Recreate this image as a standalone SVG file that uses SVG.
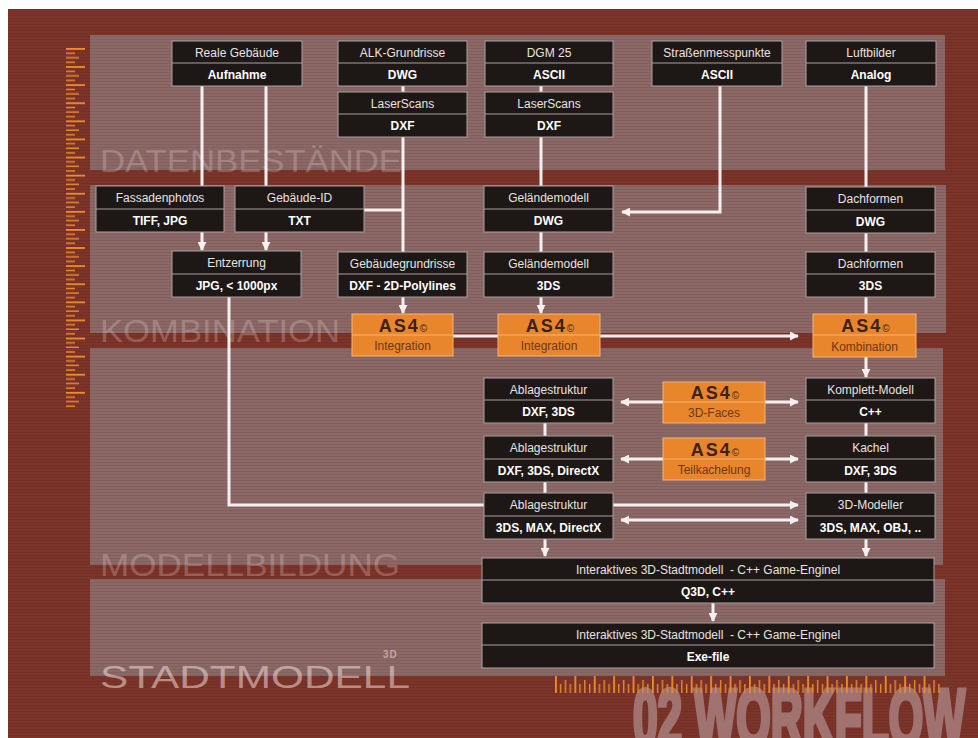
<svg xmlns="http://www.w3.org/2000/svg" width="978" height="738" viewBox="0 0 978 738">
<style>
.bx{fill:#1d1715;stroke:#aaa19f;stroke-width:1}
.dv{stroke:#aaa19f;stroke-width:1}
.t{font-family:"Liberation Sans",Arial,sans-serif;font-size:12px;fill:#e9e3e1;text-anchor:middle}
.b{font-weight:bold;fill:#ffffff}
.ob{fill:#e9862c;stroke:#f3b476;stroke-width:1}
.odv{stroke:#f3b476;stroke-width:1}
.as{font-family:"Liberation Sans",Arial,sans-serif;font-size:18px;font-weight:bold;fill:#3a2216;letter-spacing:2px;text-anchor:middle}
.ol{font-family:"Liberation Sans",Arial,sans-serif;font-size:12px;fill:#6b3816;text-anchor:middle}
.c{stroke:#f5f0ef;stroke-width:3;fill:none}
.sec{font-family:"Liberation Sans",Arial,sans-serif;fill:#f2dcd8}
.pan{fill:#8b6866}
</style>
<defs>
<marker id="ah" viewBox="0 0 10 10" refX="9" refY="5" markerWidth="9" markerHeight="9" markerUnits="userSpaceOnUse" orient="auto-start-reverse"><path d="M0,0 L10,5 L0,10 z" fill="#f5f0ef"/></marker>
<pattern id="st" width="4" height="3" patternUnits="userSpaceOnUse"><rect width="4" height="1" fill="#000000" opacity="0.07"/></pattern>
<pattern id="rv" x="66" y="48" width="20" height="18.1" patternUnits="userSpaceOnUse"><rect x="0" y="0" width="19" height="1.8" fill="#f08c2a"/><rect x="0" y="4.5" width="9" height="1.5" fill="#e8882c"/><rect x="0" y="9" width="13" height="1.5" fill="#e8882c"/><rect x="0" y="13.6" width="9" height="1.5" fill="#e8882c"/></pattern>
<pattern id="rh" x="555" y="676" width="19.4" height="17" patternUnits="userSpaceOnUse"><rect x="0" y="0" width="1.8" height="17" fill="#f08c2a"/><rect x="4.85" y="8" width="1.4" height="9" fill="#e8882c"/><rect x="9.7" y="4" width="1.4" height="13" fill="#e8882c"/><rect x="14.55" y="8" width="1.4" height="9" fill="#e8882c"/></pattern>
</defs>
<rect x="0" y="0" width="978" height="738" fill="#ffffff"/>
<rect x="8" y="9" width="970" height="729" fill="#7c3429"/>
<g id="panels">
<rect class="pan" x="90" y="35" width="855" height="135"/>
<rect class="pan" x="90" y="185" width="856" height="148"/>
<rect class="pan" x="90" y="348" width="853" height="217"/>
<rect class="pan" x="90" y="579" width="855" height="97"/>
</g>
<rect x="8" y="9" width="970" height="729" fill="url(#st)"/>
<g id="labels">
<text class="sec" x="100" y="172" style="font-size:31px;fill-opacity:0.27" textLength="302" lengthAdjust="spacingAndGlyphs">DATENBESTÄNDE</text>
<text class="sec" x="100" y="342" style="font-size:31px;fill-opacity:0.27" textLength="240" lengthAdjust="spacingAndGlyphs">KOMBINATION</text>
<text class="sec" x="100" y="576" style="font-size:31px;fill-opacity:0.27" textLength="300" lengthAdjust="spacingAndGlyphs">MODELLBILDUNG</text>
<text class="sec" x="100" y="688" style="font-size:32px;fill-opacity:0.55" textLength="310" lengthAdjust="spacingAndGlyphs">STADTMODELL</text>
<text class="sec" x="383" y="658" style="font-size:10px;font-weight:bold;fill-opacity:0.55;letter-spacing:1px">3D</text>
<text x="633" y="745" style="font-family:'Liberation Sans',Arial,sans-serif;font-size:80px;font-weight:bold;fill:#a07370;stroke:#a07370;stroke-width:5px;stroke-linejoin:miter" textLength="332" lengthAdjust="spacingAndGlyphs">02 WORKFLOW</text>
</g>
<g id="rulers">
<rect x="66" y="48" width="20" height="361" fill="url(#rv)"/>
<rect x="555" y="676" width="388" height="17" fill="url(#rh)"/>
</g>
<g id="connectors">
<path class="c" d="M202,86 V186"/>
<path class="c" d="M266,86 V186"/>
<path class="c" d="M202,232 V250" marker-end="url(#ah)"/>
<path class="c" d="M266,232 V250" marker-end="url(#ah)"/>
<path class="c" d="M403,86 V92"/>
<path class="c" d="M403,137 V252"/>
<path class="c" d="M364,210 H403"/>
<path class="c" d="M403,297 V313" marker-end="url(#ah)"/>
<path class="c" d="M541,86 V92"/>
<path class="c" d="M541,137 V186"/>
<path class="c" d="M541,232 V252"/>
<path class="c" d="M541,297 V313" marker-end="url(#ah)"/>
<path class="c" d="M720,86 V212 H622" marker-end="url(#ah)"/>
<path class="c" d="M866,86 V187"/>
<path class="c" d="M866,233 V252"/>
<path class="c" d="M866,297 V314"/>
<path class="c" d="M866,357 V377" marker-end="url(#ah)"/>
<path class="c" d="M453,336 H498"/>
<path class="c" d="M600,336 H798" marker-end="url(#ah)"/>
<path class="c" d="M229,297 V505 H484"/>
<path class="c" d="M621,402 H798" marker-start="url(#ah)" marker-end="url(#ah)"/>
<path class="c" d="M621,459 H798" marker-start="url(#ah)" marker-end="url(#ah)"/>
<path class="c" d="M613,505 H798" marker-end="url(#ah)"/>
<path class="c" d="M621,520 H798" marker-start="url(#ah)" marker-end="url(#ah)"/>
<path class="c" d="M545,423 V436"/>
<path class="c" d="M545,482 V493"/>
<path class="c" d="M545,539 V556" marker-end="url(#ah)"/>
<path class="c" d="M866,423 V436"/>
<path class="c" d="M866,482 V493"/>
<path class="c" d="M866,539 V556" marker-end="url(#ah)"/>
<path class="c" d="M713,603 V621" marker-end="url(#ah)"/>
</g>
<g id="n_reale" transform="translate(172,41)"><rect class="bx" width="130" height="45"/><line class="dv" x1="0" y1="22" x2="130" y2="22"/><text class="t" x="65" y="16">Reale Gebäude</text><text class="t b" x="65" y="38">Aufnahme</text></g>
<g id="n_alk" transform="translate(338,41)"><rect class="bx" width="129" height="45"/><line class="dv" x1="0" y1="22" x2="129" y2="22"/><text class="t" x="64.5" y="16">ALK-Grundrisse</text><text class="t b" x="64.5" y="38">DWG</text></g>
<g id="n_dgm" transform="translate(485,41)"><rect class="bx" width="128" height="45"/><line class="dv" x1="0" y1="22" x2="128" y2="22"/><text class="t" x="64" y="16">DGM 25</text><text class="t b" x="64" y="38">ASCII</text></g>
<g id="n_strassen" transform="translate(652,41)"><rect class="bx" width="130" height="45"/><line class="dv" x1="0" y1="22" x2="130" y2="22"/><text class="t" x="65" y="16">Straßenmesspunkte</text><text class="t b" x="65" y="38">ASCII</text></g>
<g id="n_luft" transform="translate(806,41)"><rect class="bx" width="130" height="45"/><line class="dv" x1="0" y1="22" x2="130" y2="22"/><text class="t" x="65" y="16">Luftbilder</text><text class="t b" x="65" y="38">Analog</text></g>
<g id="n_laser1" transform="translate(338,92)"><rect class="bx" width="129" height="45"/><line class="dv" x1="0" y1="22" x2="129" y2="22"/><text class="t" x="64.5" y="16">LaserScans</text><text class="t b" x="64.5" y="38">DXF</text></g>
<g id="n_laser2" transform="translate(485,92)"><rect class="bx" width="128" height="45"/><line class="dv" x1="0" y1="22" x2="128" y2="22"/><text class="t" x="64" y="16">LaserScans</text><text class="t b" x="64" y="38">DXF</text></g>
<g id="n_fassade" transform="translate(96,186)"><rect class="bx" width="128" height="46"/><line class="dv" x1="0" y1="23" x2="128" y2="23"/><text class="t" x="64" y="16">Fassadenphotos</text><text class="t b" x="64" y="39">TIFF, JPG</text></g>
<g id="n_gebid" transform="translate(235,186)"><rect class="bx" width="129" height="46"/><line class="dv" x1="0" y1="23" x2="129" y2="23"/><text class="t" x="64.5" y="16">Gebäude-ID</text><text class="t b" x="64.5" y="39">TXT</text></g>
<g id="n_gelaende1" transform="translate(484,186)"><rect class="bx" width="129" height="46"/><line class="dv" x1="0" y1="23" x2="129" y2="23"/><text class="t" x="64.5" y="16">Geländemodell</text><text class="t b" x="64.5" y="39">DWG</text></g>
<g id="n_dach1" transform="translate(806,187)"><rect class="bx" width="129" height="46"/><line class="dv" x1="0" y1="23" x2="129" y2="23"/><text class="t" x="64.5" y="16">Dachformen</text><text class="t b" x="64.5" y="39">DWG</text></g>
<g id="n_entz" transform="translate(172,251)"><rect class="bx" width="129" height="46"/><line class="dv" x1="0" y1="23" x2="129" y2="23"/><text class="t" x="64.5" y="16">Entzerrung</text><text class="t b" x="64.5" y="39">JPG, &lt; 1000px</text></g>
<g id="n_grundriss" transform="translate(338,252)"><rect class="bx" width="129" height="45"/><line class="dv" x1="0" y1="22" x2="129" y2="22"/><text class="t" x="64.5" y="16">Gebäudegrundrisse</text><text class="t b" x="64.5" y="38">DXF - 2D-Polylines</text></g>
<g id="n_gelaende2" transform="translate(484,252)"><rect class="bx" width="129" height="45"/><line class="dv" x1="0" y1="22" x2="129" y2="22"/><text class="t" x="64.5" y="16">Geländemodell</text><text class="t b" x="64.5" y="38">3DS</text></g>
<g id="n_dach2" transform="translate(806,252)"><rect class="bx" width="129" height="45"/><line class="dv" x1="0" y1="22" x2="129" y2="22"/><text class="t" x="64.5" y="16">Dachformen</text><text class="t b" x="64.5" y="38">3DS</text></g>
<g id="as_int1" transform="translate(352,314)"><rect class="ob" width="101" height="42"/><line class="odv" x1="0" y1="21" x2="101" y2="21"/><text class="as" x="51" y="18">AS4<tspan font-size="10" font-weight="normal" letter-spacing="0">©</tspan></text><text class="ol" x="50.5" y="36">Integration</text></g>
<g id="as_int2" transform="translate(498,314)"><rect class="ob" width="102" height="42"/><line class="odv" x1="0" y1="21" x2="102" y2="21"/><text class="as" x="52" y="18">AS4<tspan font-size="10" font-weight="normal" letter-spacing="0">©</tspan></text><text class="ol" x="51" y="36">Integration</text></g>
<g id="as_komb" transform="translate(813,314)"><rect class="ob" width="103" height="43"/><line class="odv" x1="0" y1="21" x2="103" y2="21"/><text class="as" x="52.5" y="18">AS4<tspan font-size="10" font-weight="normal" letter-spacing="0">©</tspan></text><text class="ol" x="51.5" y="37">Kombination</text></g>
<g id="n_abl1" transform="translate(484,378)"><rect class="bx" width="129" height="45"/><line class="dv" x1="0" y1="22" x2="129" y2="22"/><text class="t" x="64.5" y="16">Ablagestruktur</text><text class="t b" x="64.5" y="38">DXF, 3DS</text></g>
<g id="as_faces" transform="translate(663,382)"><rect class="ob" width="102" height="41"/><line class="odv" x1="0" y1="20" x2="102" y2="20"/><text class="as" x="52" y="17">AS4<tspan font-size="10" font-weight="normal" letter-spacing="0">©</tspan></text><text class="ol" x="51" y="35">3D-Faces</text></g>
<g id="n_komplett" transform="translate(806,378)"><rect class="bx" width="129" height="45"/><line class="dv" x1="0" y1="22" x2="129" y2="22"/><text class="t" x="64.5" y="16">Komplett-Modell</text><text class="t b" x="64.5" y="38">C++</text></g>
<g id="n_abl2" transform="translate(484,436)"><rect class="bx" width="129" height="46"/><line class="dv" x1="0" y1="23" x2="129" y2="23"/><text class="t" x="64.5" y="16">Ablagestruktur</text><text class="t b" x="64.5" y="39">DXF, 3DS, DirectX</text></g>
<g id="as_teil" transform="translate(663,438)"><rect class="ob" width="102" height="42"/><line class="odv" x1="0" y1="21" x2="102" y2="21"/><text class="as" x="52" y="18">AS4<tspan font-size="10" font-weight="normal" letter-spacing="0">©</tspan></text><text class="ol" x="51" y="36">Teilkachelung</text></g>
<g id="n_kachel" transform="translate(806,436)"><rect class="bx" width="129" height="46"/><line class="dv" x1="0" y1="23" x2="129" y2="23"/><text class="t" x="64.5" y="16">Kachel</text><text class="t b" x="64.5" y="39">DXF, 3DS</text></g>
<g id="n_abl3" transform="translate(484,493)"><rect class="bx" width="129" height="46"/><line class="dv" x1="0" y1="23" x2="129" y2="23"/><text class="t" x="64.5" y="16">Ablagestruktur</text><text class="t b" x="64.5" y="39">3DS, MAX, DirectX</text></g>
<g id="n_modeller" transform="translate(806,493)"><rect class="bx" width="129" height="46"/><line class="dv" x1="0" y1="23" x2="129" y2="23"/><text class="t" x="64.5" y="16">3D-Modeller</text><text class="t b" x="64.5" y="39">3DS, MAX, OBJ, ..</text></g>
<g id="n_inter1" transform="translate(482,558)"><rect class="bx" width="452" height="45"/><line class="dv" x1="0" y1="22" x2="452" y2="22"/><text class="t" x="226" y="16" xml:space="preserve">Interaktives 3D-Stadtmodell  - C++ Game-Enginel</text><text class="t b" x="226" y="38">Q3D, C++</text></g>
<g id="n_inter2" transform="translate(482,623)"><rect class="bx" width="452" height="45"/><line class="dv" x1="0" y1="22" x2="452" y2="22"/><text class="t" x="226" y="16" xml:space="preserve">Interaktives 3D-Stadtmodell  - C++ Game-Enginel</text><text class="t b" x="226" y="38">Exe-file</text></g>
</svg>
